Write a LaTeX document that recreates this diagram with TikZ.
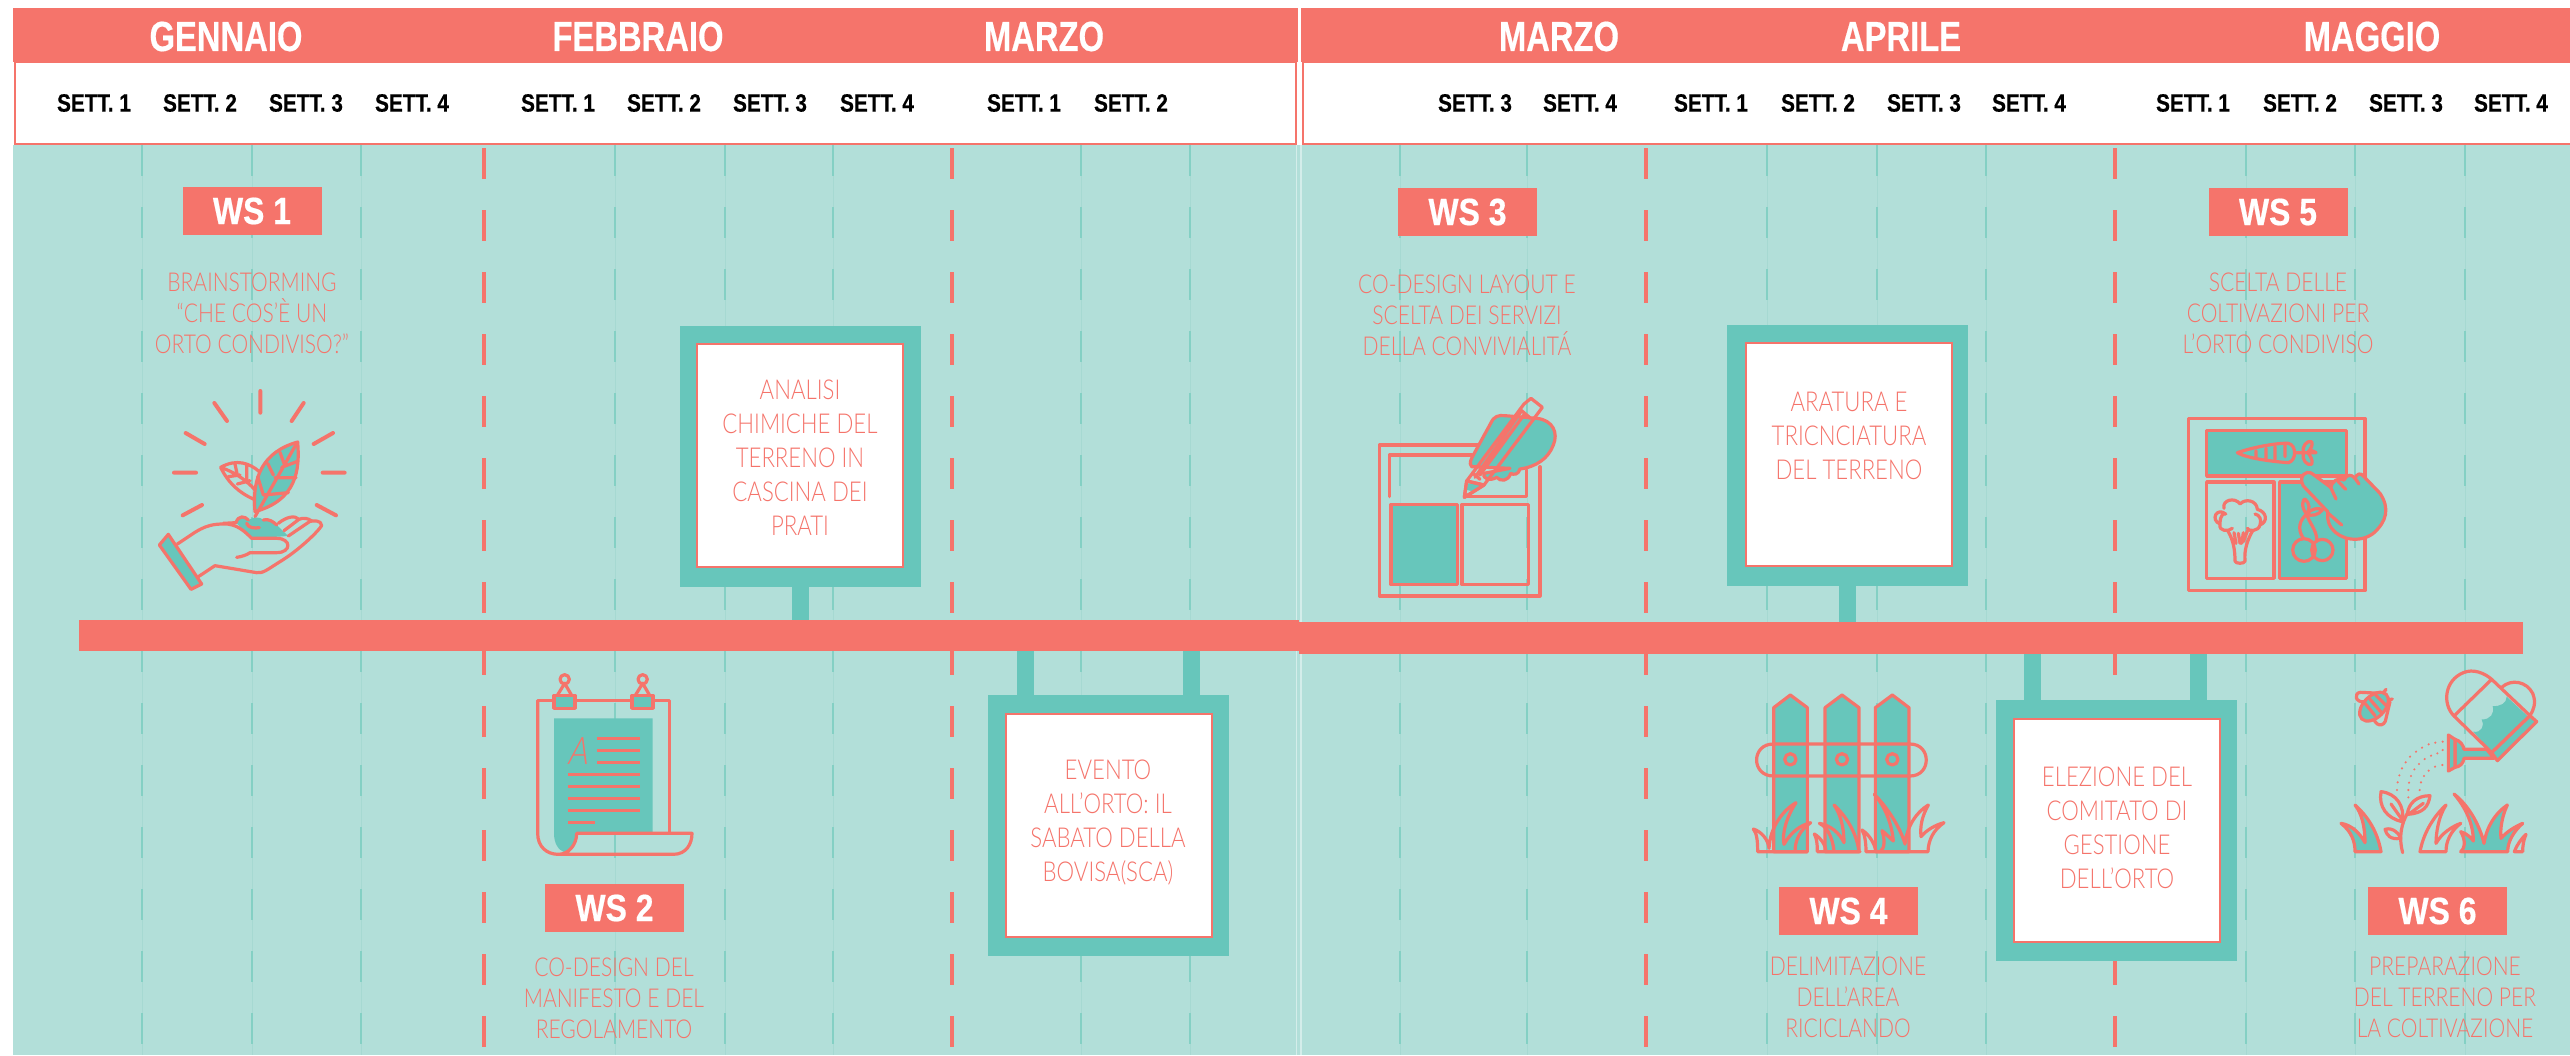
\documentclass[tikz,border=0pt]{standalone}
\usepackage{fontspec}
\setmainfont{Liberation Sans}
\newfontfamily\headf[FakeStretch=0.78,FakeBold=0.4]{Liberation Sans Bold}
\newfontfamily\weekf[FakeStretch=0.83,FakeBold=0.5]{Liberation Sans Bold}
\newfontfamily\wsf[FakeStretch=0.84,FakeBold=0.5]{Liberation Sans Bold}
\newfontfamily\thinf[FakeStretch=0.81]{Lato Light}
\definecolor{coral}{HTML}{F5746B}
\definecolor{bgteal}{HTML}{B2DFD9}
\definecolor{midteal}{HTML}{67C6BB}
\definecolor{dashteal}{HTML}{84D0C4}
\definecolor{faintteal}{HTML}{A6D9D2}
\tikzset{
  x=0.5pt,y=-0.5pt,
  month/.style={font=\headf\fontsize{21}{21}\selectfont,text=white,inner sep=0pt},
  week/.style={font=\weekf\fontsize{12.5}{13}\selectfont,text=black,inner sep=0pt},
  wsbox/.style={fill=coral,text=white,font=\wsf\fontsize{19}{19}\selectfont,minimum width=69.5pt,minimum height=24pt,inner sep=0pt},
  desc/.style={font=\thinf\fontsize{13}{15.5}\selectfont,text=coral,align=center,inner sep=0pt},
  boxtext/.style={font=\thinf\fontsize{13.7}{17}\selectfont,text=coral,align=center,inner sep=0pt},
  outerbox/.style={fill=midteal,minimum width=120.5pt,minimum height=130.5pt,inner sep=0pt},
  innerbox/.style={fill=white,draw=coral,line width=1pt,minimum width=103pt,minimum height=111.5pt,inner sep=0pt},
  barpart/.style={fill=coral,inner sep=0pt},
  stemline/.style={midteal,line width=8.5pt},
  ic/.style={coral,line width=1.6pt,line join=round,line cap=round},
  icf/.style={ic,fill=midteal},
  weekdash/.style={dashteal,line width=1.1pt,dash pattern=on 15.5pt off 15.5pt},
  weekfaint/.style={faintteal,line width=0.5pt},
  monthdash/.style={coral,line width=2pt,dash pattern=on 15.5pt off 15.5pt},
}
\begin{document}
\begin{tikzpicture}
\useasboundingbox (0,0) rectangle (2570,1055);
\fill[white] (0,0) rectangle (2570,1055);
\fill[bgteal] (13,145) rectangle (2570,1055);
\draw[white,opacity=.45,line width=.6pt] (1296.5,145) -- (1296.5,1055) (1301,145) -- (1301,1055);
% week dashes
\foreach \x in {142,252,361,615,725,833,1081,1190,1400,1527,1767,1877,1986,2246,2355,2465}{
  \draw[weekfaint] (\x,145) -- (\x,1055);
  \draw[weekdash] (\x,145) -- (\x,1055);
}
\foreach \x in {484,952,1646,2115}{
  \draw[monthdash] (\x,148) -- (\x,1055);
}
% header
\fill[coral] (13,8) rectangle (1298,62);
\fill[coral] (1301,8) rectangle (2570,62);
\draw[coral,line width=1.2pt,fill=white] (15,62) rectangle (1296,144);
\draw[coral,line width=1.2pt,fill=white] (1303,62) rectangle (2575,144);
\node[month] (m1) at (226,36.5) {GENNAIO};
\node[month] (m2) at (638,36.5) {FEBBRAIO};
\node[month] (m3) at (1044,36.5) {MARZO};
\node[month] (m4) at (1559,36.5) {MARZO};
\node[month] (m5) at (1901,36.5) {APRILE};
\node[month] (m6) at (2372,36.5) {MAGGIO};
\foreach \x/\t [count=\i] in {94/1,200/2,306/3,412/4,558/1,664/2,770/3,877/4,1024/1,1131/2,1475/3,1580/4,1711/1,1818/2,1924/3,2029/4,2193/1,2300/2,2406/3,2511/4}{
  \node[week] (w\i) at (\x,103) {SETT. \t};
}
% timeline
\node[barpart,minimum width=610pt,minimum height=15.5pt] (barL) at (689,635.5) {};
\node[barpart,minimum width=612pt,minimum height=16pt] (barR) at (1911,638) {};
% boxes
\node[outerbox] (oa) at (800,456.5) {};
\node[innerbox] (ia) at (800,455.5) {};
\node[boxtext] (ta) at (800,458) {ANALISI\\CHIMICHE DEL\\TERRENO IN\\CASCINA DEI\\PRATI};
\node[outerbox] (ob) at (1108.5,825.5) {};
\node[innerbox] (ib) at (1109,825.5) {};
\node[boxtext] (tb) at (1108,822) {EVENTO\\ALL’ORTO: IL\\SABATO DELLA\\BOVISA(SCA)};
\node[outerbox] (oc) at (1847.5,455) {};
\node[innerbox] (ic) at (1848.5,454.5) {};
\node[boxtext] (tc) at (1849,436) {ARATURA E\\TRICNCIATURA\\DEL TERRENO};
\node[outerbox] (od) at (2116.5,830.5) {};
\node[innerbox] (id) at (2117,830.5) {};
\node[boxtext] (td) at (2117,828) {ELEZIONE DEL\\COMITATO DI\\GESTIONE\\DELL’ORTO};
% stems
\draw[stemline] (oa.south) -- (oa.south |- barL.north);
\draw[stemline] (oc.south) -- (oc.south |- barR.north);
\coordinate (b1) at (1025,695); \coordinate (b2) at (1191.5,695);
\coordinate (d1) at (2032.5,700); \coordinate (d2) at (2198,700);
\draw[stemline] (b1) -- (b1 |- barL.south);
\draw[stemline] (b2) -- (b2 |- barL.south);
\draw[stemline] (d1) -- (d1 |- barR.south);
\draw[stemline] (d2) -- (d2 |- barR.south);
% WS labels
\node[wsbox] (ws1) at (252,211) {WS 1};
\node[wsbox] (ws2) at (614.5,908) {WS 2};
\node[wsbox] (ws3) at (1467.5,212) {WS 3};
\node[wsbox] (ws4) at (1848.5,911) {WS 4};
\node[wsbox] (ws5) at (2278,212) {WS 5};
\node[wsbox] (ws6) at (2437.5,911) {WS 6};
\node[desc] (d1t) at (252,313) {BRAINSTORMING\\“CHE COS’È UN\\ORTO CONDIVISO?”};
\node[desc] (d2t) at (614,998) {CO-DESIGN DEL\\MANIFESTO E DEL\\REGOLAMENTO};
\node[desc] (d3t) at (1467,315) {CO-DESIGN LAYOUT E\\SCELTA DEI SERVIZI\\DELLA CONVIVIALITÁ};
\node[desc] (d4t) at (1848,997) {DELIMITAZIONE\\DELL’AREA\\RICICLANDO};
\node[desc] (d5t) at (2278,313) {SCELTA DELLE\\COLTIVAZIONI PER\\L’ORTO CONDIVISO};
\node[desc] (d6t) at (2445,997) {PREPARAZIONE\\DEL TERRENO PER\\LA COLTIVAZIONE};
% ICON 1 hand
\begin{scope}[shift={(100,360)},scale=1/3]
\draw[ic,line width=2pt] (481,93)--(481,158) (343,129)--(381,183) (611,129)--(575,183) (257,219)--(314,252) (699,219)--(641,252) (222,338)--(288,338) (668,338)--(734,338) (306,435)--(248,466) (650,435)--(708,466);
\draw[ic] (362,322) .. controls (410,295) and (450,310) .. (478,335) (362,322) .. controls (385,370) and (420,400) .. (462,418) (362,322) .. controls (400,335) and (440,360) .. (465,390) (405,312)--(412,345) (440,315)--(440,368) (385,350)--(420,345) (412,372)--(450,362);
\draw[icf] (593,246) .. controls (600,330) and (590,420) .. (465,455) .. controls (455,350) and (490,275) .. (593,246) -- cycle;
\draw[ic] (590,250) -- (465,470) (540,277)--(552,310) (503,310)--(520,345) (473,350)--(490,405) (590,305)--(545,322) (588,353)--(525,353) (565,398)--(490,405);
\fill[midteal] (408,488) .. controls (415,465) and (435,468) .. (445,480) .. controls (465,470) and (480,470) .. (490,480) .. controls (505,475) and (520,485) .. (530,495) -- (565,528) -- (455,535) -- cycle;
\draw[ic] (370,490) -- (408,488) .. controls (415,465) and (435,468) .. (445,480) (490,480) .. controls (505,475) and (520,485) .. (530,495) (440,490) .. controls (445,505) and (465,505) .. (478,503);
\draw[ic] (232,552) .. controls (290,515) and (310,492) .. (370,492) .. controls (410,490) and (435,515) .. (455,535) -- (530,535) .. controls (575,535) and (575,578) .. (530,578) -- (450,578) .. controls (440,585) and (425,590) .. (410,592);
\draw[ic] (295,650) -- (345,617) -- (470,638) .. controls (490,640) and (500,630) .. (540,605) .. controls (590,575) and (650,520) .. (665,497) .. controls (665,480) and (640,482) .. (630,484) -- (565,528);
\draw[ic] (535,490) .. controls (560,470) and (585,465) .. (597,478) -- (552,512) (597,478) .. controls (610,472) and (625,475) .. (635,483);
\draw[icf] (205,523) -- (305,672) -- (273,688) -- (178,555) -- cycle;
\end{scope}
% ICON 2 manifesto
\begin{scope}[shift={(480,640)},scale=1/3]
\fill[midteal] (222,235) -- (518,235) -- (518,578) -- (290,578) .. controls (288,610) and (270,630) .. (252,636) .. controls (235,630) and (222,610) .. (222,580) -- cycle;
\draw[ic,line cap=butt] (173,181) -- (173,580) .. controls (173,620) and (200,643) .. (235,643) -- (580,643) .. controls (620,643) and (636,610) .. (636,580) -- (290,580) .. controls (290,615) and (265,643) .. (235,643);
\draw[ic] (173,181) -- (568,181) -- (568,580);
\foreach \dx in {0,234}{
  \begin{scope}[shift={(\dx,0)}]
  \draw[icf] (222,166) rectangle (285,205);
  \draw[ic] (232,166) -- (254,130) -- (275,166);
  \draw[ic] (254,118) circle[radius=14];
  \end{scope}
}
\draw[coral,line width=1.5pt] (352,295)--(480,295) (352,331)--(480,331) (352,367)--(480,367) (264,403)--(480,403) (264,439)--(480,439) (264,475)--(480,475) (264,511)--(480,511) (264,547)--(345,547);
\node[text=coral,font=\thinf\fontsize{19}{19}\selectfont,inner sep=0pt,xslant=.2] (lettera) at (302,332) {A};
\end{scope}
% ICON 3 pencil
\begin{scope}[shift={(1340,370)},scale=1/3]
\draw[ic] (415,225) -- (118,225) -- (118,678) -- (600,678) -- (600,290);
\draw[ic] (148,380) -- (148,255) -- (395,255) (375,380) -- (560,380) -- (560,300);
\draw[icf] (153,403) rectangle (352,644);
\draw[ic] (366,403) rectangle (566,644);
\draw[icf] (395,290) .. controls (385,280) and (395,265) .. (400,255) -- (452,160) .. controls (462,138) and (475,135) .. (495,137) -- (590,145) .. controls (640,150) and (655,190) .. (640,225) .. controls (625,265) and (590,290) .. (540,297) .. controls (535,315) and (520,315) .. (512,310) .. controls (505,335) and (480,335) .. (470,322) .. controls (450,335) and (425,325) .. (432,310) -- (510,295) -- cycle;
\draw[ic] (373,382) -- (380,333) -- (552,102) -- (573,85) -- (607,112) -- (590,135) -- (432,345) -- cycle;
\fill[midteal] (384,340) -- (428,343) -- (405,365) -- (380,360) -- cycle;
\draw[ic] (373,382) -- (380,333) -- (432,345) -- cycle;
\draw[ic] (380,333) -- (432,345) (398,309)--(420,328) (540,118) -- (572,145) (420,315) -- (555,130) (405,322) -- (545,122);
\end{scope}
% ICON 4 fence
\begin{scope}[shift={(1720,660)},scale=1/3]
\foreach \a/\b/\c in {161/211/262,315/366/417,466/517/567}{
  \draw[icf] (\a,575) -- (\a,143) -- (\b,105) -- (\c,143) -- (\c,575) -- cycle;
  \draw[ic] (\b,298) circle[radius=17];
}
\draw[ic] (160,252) -- (570,252) .. controls (635,252) and (635,348) .. (570,348) -- (160,348) .. controls (93,348) and (93,252) .. (160,252);
\draw[ic] (113,575) -- (262,575) (113,575) .. controls (113,540) and (110,520) .. (100,507) .. controls (125,515) and (145,540) .. (147,565) .. controls (150,500) and (190,450) .. (228,428) .. controls (200,470) and (185,520) .. (192,553) .. controls (210,520) and (240,495) .. (272,488) .. controls (240,510) and (225,540) .. (225,575);
\draw[ic] (292,575) -- (420,575) (292,575) .. controls (292,550) and (290,535) .. (283,522) .. controls (305,535) and (318,560) .. (318,575) (342,575) .. controls (340,550) and (330,505) .. (298,490) .. controls (330,495) and (360,520) .. (372,548) .. controls (372,500) and (360,460) .. (342,435) .. controls (380,470) and (410,520) .. (417,575);
\draw[ic] (438,575) -- (624,575) (438,575) .. controls (438,550) and (435,525) .. (426,510) .. controls (450,525) and (465,555) .. (468,575) (555,552) .. controls (540,500) and (500,440) .. (463,403) .. controls (495,440) and (515,490) .. (520,543) .. controls (505,530) and (495,518) .. (486,512) .. controls (495,540) and (495,565) .. (480,575) (555,552) .. controls (560,500) and (590,455) .. (625,435) .. controls (605,470) and (600,500) .. (603,530) .. controls (620,510) and (645,495) .. (672,488) .. controls (640,510) and (625,540) .. (624,575);
\end{scope}
% ICON 5 vegetables
\begin{scope}[shift={(2160,400)},scale=1/3]
\draw[ic] (85,55) rectangle (615,572);
\draw[icf] (140,92) rectangle (560,228);
\draw[ic] (140,246) rectangle (342,535);
\draw[icf] (359,246) rectangle (560,535);
\draw[ic] (232,158) .. controls (300,135) and (370,128) .. (385,130) .. controls (410,135) and (410,182) .. (385,188) .. controls (340,185) and (260,175) .. (232,158) -- cycle;
\draw[ic] (288,152)--(288,172) (318,145)--(318,178) (345,140)--(345,178) (375,135)--(375,170) (405,158)--(468,158) (430,158) .. controls (425,140) and (440,120) .. (455,125) .. controls (460,135) and (450,150) .. (445,155) (468,158) .. controls (455,150) and (450,150) .. (445,155) (430,160) .. controls (425,178) and (440,198) .. (455,193) .. controls (460,180) and (450,168) .. (445,160);
\draw[ic] (197,342) .. controls (170,320) and (150,360) .. (180,372) .. controls (175,395) and (205,395) .. (217,385) (192,325) .. controls (185,300) and (225,290) .. (240,312) .. controls (255,295) and (290,300) .. (292,328) .. controls (320,335) and (325,365) .. (300,375) .. controls (295,395) and (265,395) .. (262,385) (180,372) .. controls (180,345) and (190,340) .. (197,342) (285,342) .. controls (300,345) and (305,360) .. (300,375);
\draw[ic] (203,392) .. controls (220,420) and (225,450) .. (225,483) .. controls (225,492) and (255,492) .. (255,483) .. controls (252,450) and (262,420) .. (278,392) (222,398)--(228,430) (235,400)--(240,430) (250,398)--(245,430) (262,393)--(250,425);
\draw[ic] (432,450) circle[radius=34] (487,450) circle[radius=32];
\draw[ic] (430,415) .. controls (410,385) and (420,360) .. (440,342) .. controls (445,365) and (470,390) .. (470,418) (440,342) .. controls (420,320) and (430,295) .. (435,297) .. controls (450,310) and (450,330) .. (440,342) (440,342) .. controls (455,325) and (475,322) .. (487,330) .. controls (475,345) and (455,350) .. (440,342);
\draw[icf] (425,235) .. controls (430,215) and (450,212) .. (462,225) -- (512,262) .. controls (515,245) and (535,230) .. (552,240) .. controls (560,222) and (575,222) .. (585,235) .. controls (590,220) and (603,218) .. (610,228) -- (660,280) .. controls (690,325) and (680,365) .. (640,400) .. controls (600,430) and (540,420) .. (515,385) .. controls (500,365) and (503,345) .. (503,335) -- (430,258) .. controls (425,250) and (424,242) .. (425,235) -- cycle;
\draw[ic] (505,340)--(545,375) (512,262)--(528,297) (535,245)--(557,268) (585,235)--(597,252);
\end{scope}
% ICON 6 watering can
\begin{scope}[shift={(2310,650)},scale=1/3]
\fill[midteal] (590,140) -- (660,205) -- (545,308) -- (490,245) .. controls (515,250) and (525,225) .. (515,208) .. controls (540,210) and (555,190) .. (548,168) .. controls (570,170) and (590,160) .. (590,140) -- cycle;
\draw[ic] (432,198) .. controls (395,160) and (405,90) .. (460,68) .. controls (490,55) and (525,70) .. (545,88) -- cycle;
\draw[ic] (545,88) -- (660,197) -- (545,308) -- (432,198);
\draw[ic] (575,112) .. controls (605,85) and (650,95) .. (668,130) .. controls (680,160) and (670,180) .. (660,197);
\draw[icf] (660,197) -- (680,215) -- (562,332) -- (545,308) -- cycle;
\draw[icf] (435,268) .. controls (450,272) and (460,285) .. (462,298) -- (530,298) -- (552,325) -- (462,325) .. controls (460,340) and (450,350) .. (435,352) -- cycle;
\draw[icf] (415,255) -- (435,268) -- (435,352) -- (415,363) -- cycle;
\foreach \p in {(398,275),(376,278),(356,283),(336,293),(318,305),(300,320),(287,337),(276,355),(268,376),(263,397),(261,420),(398,300),(382,310),(363,317),(344,327),(327,342),(313,358),(303,378),(297,398),(295,420),(295,442),(397,345),(375,350),(356,362),(342,378),(333,397),(329,420)}
  \fill[coral] \p circle[radius=3.6];
\draw[ic] (278,608) .. controls (265,560) and (275,520) .. (292,490);
\draw[ic] (213,425) .. controls (260,430) and (285,470) .. (277,515) .. controls (230,505) and (205,470) .. (213,425) -- cycle (243,462)--(277,510);
\draw[ic] (360,437) .. controls (320,437) and (295,460) .. (292,493) .. controls (340,490) and (355,470) .. (360,437) -- cycle (340,460)--(300,490);
\draw[ic] (225,538) .. controls (250,530) and (270,555) .. (272,565) .. controls (240,570) and (230,555) .. (225,538) -- cycle;
\draw[icf] (135,605) .. controls (135,575) and (125,545) .. (93,520) .. controls (125,525) and (150,550) .. (165,578) .. controls (165,530) and (155,490) .. (135,465) .. controls (185,510) and (205,560) .. (213,605) -- cycle;
\draw[ic] (330,605) .. controls (340,550) and (370,500) .. (408,465) .. controls (385,500) and (378,550) .. (378,580) .. controls (395,550) and (425,530) .. (452,520) .. controls (420,545) and (408,575) .. (408,605) -- cycle;
\draw[icf] (452,605) .. controls (470,590) and (462,560) .. (452,545) .. controls (470,550) and (485,565) .. (490,573) .. controls (490,520) and (465,470) .. (432,432) .. controls (480,470) and (510,530) .. (522,580) .. controls (530,530) and (555,490) .. (592,465) .. controls (575,500) and (570,540) .. (573,565) .. controls (590,545) and (615,530) .. (638,520) .. controls (610,545) and (593,575) .. (593,605) -- cycle;
\draw[ic] (613,605) .. controls (620,585) and (635,565) .. (648,553) .. controls (640,570) and (638,590) .. (638,605) -- cycle;
% bee
\draw[ic] (165,155) .. controls (135,160) and (130,128) .. (152,127) -- (215,130) (190,195) .. controls (190,230) and (225,235) .. (228,205) -- (240,155);
\draw[icf] (192,170) ellipse[x radius=52,y radius=32,rotate=45];
\draw[ic] (165,160)--(195,197) (180,148)--(212,185) (197,135)--(230,168) (220,128)--(228,118) (235,150)--(247,147);
\end{scope}
\end{tikzpicture}
\end{document}
